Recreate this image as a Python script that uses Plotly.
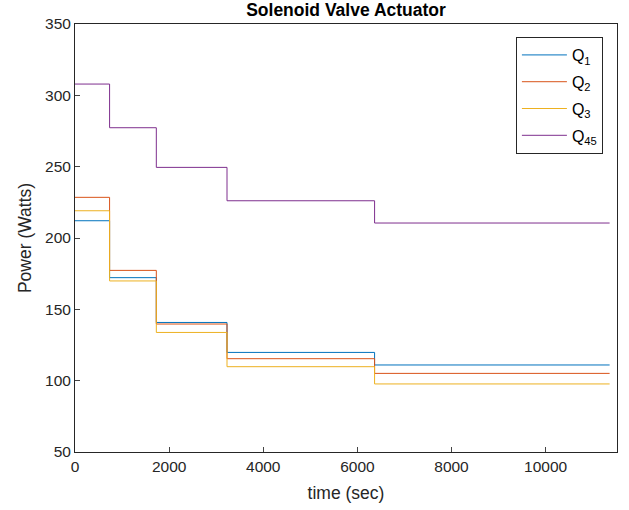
import plotly.graph_objects as go

# Step times (sec)
times = [0, 735, 1728, 3230, 6366, 11360]
# Power levels per interval (Watts)
q1 = [212.1, 172.2, 140.8, 119.8, 111.0]
q2 = [228.5, 177.3, 139.7, 115.4, 105.1]
q3 = [219.1, 169.9, 133.8, 109.8, 97.7]
q45 = [307.9, 277.3, 249.5, 226.1, 210.5]
names = ["Q<sub>1</sub>", "Q<sub>2</sub>", "Q<sub>3</sub>", "Q<sub>45</sub>"]
colors = ["#0072BD", "#D95319", "#EDB120", "#7E2F8E"]
xticks = [0, 2000, 4000, 6000, 8000, 10000]
xticklabels = ["0", "2000", "4000", "6000", "8000", "10000"]
yticks = [50, 100, 150, 200, 250, 300, 350]

fig = go.Figure()
for i, (vals, nm, c) in enumerate(zip([q1, q2, q3, q45], names, colors)):
    fig.add_trace(go.Scatter(x=times, y=vals + [vals[-1]], mode="lines",
                             line=dict(shape="hv", color=c, width=1), name=nm,
                             legendgroup=f"g{i}"))

axcol = "#262626"
fig.update_layout(
    width=629, height=510,
    margin=dict(l=75, r=12, t=24, b=58, autoexpand=False),
    paper_bgcolor="white", plot_bgcolor="white",
    font=dict(family="Liberation Sans, Arial, sans-serif", size=15.5, color=axcol),
    title=dict(text="<b>Solenoid Valve Actuator</b>", x=(75 + 617) / 2 / 629, xanchor="center",
               y=1 - 10 / 510, yanchor="middle", font=dict(size=17.5, color="black")),
    showlegend=True,
    legend=dict(x=0.974, y=0.9696, xanchor="right", yanchor="top",
                bordercolor=axcol, borderwidth=1, bgcolor="white", tracegroupgap=3,
                font=dict(size=16, color="black"), itemwidth=45),
)
fig.update_xaxes(range=[0, 11517], tickvals=xticks, ticktext=xticklabels, ticks="inside", ticklen=5,
                 showline=True, mirror=True, linecolor=axcol, linewidth=1,
                 showgrid=False, zeroline=False, automargin=False,
                 title=dict(text="time (sec)", font=dict(size=17.5), standoff=13))
fig.update_yaxes(range=[50, 350], tickvals=yticks, ticks="inside", ticklen=5,
                 showline=True, mirror=True, linecolor=axcol, linewidth=1,
                 showgrid=False, zeroline=False, automargin=False,
                 title=dict(text="Power (Watts)", font=dict(size=17.5), standoff=8))

fig.write_html("out.html", config={"displayModeBar": False},
               post_script="document.body.style.margin='0';")
